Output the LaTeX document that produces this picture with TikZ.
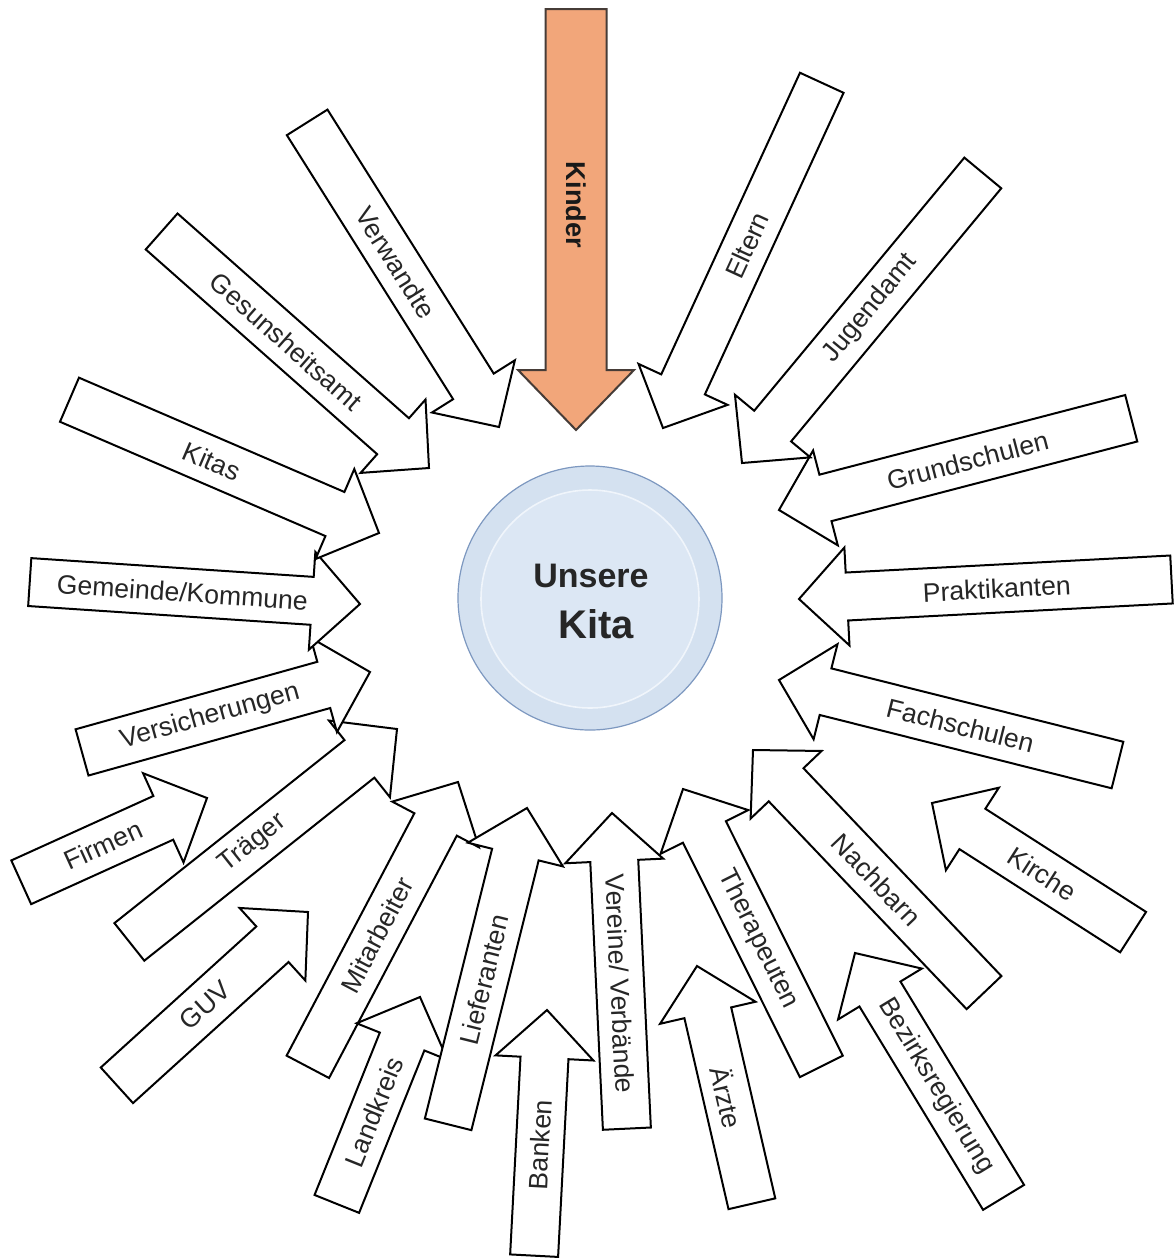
\documentclass[tikz,border=0pt]{standalone}
\usepackage{fontspec}
\setmainfont{Liberation Sans}
\definecolor{kindfill}{RGB}{242,166,122}
\definecolor{kindline}{RGB}{70,60,55}
\definecolor{ringfill}{RGB}{212,225,240}
\definecolor{ringline}{RGB}{125,152,192}
\definecolor{corefill}{RGB}{220,231,244}
\definecolor{coreline}{RGB}{240,245,251}
\tikzset{
  arrowbox/.style={draw=black, fill=white, line width=1pt, line join=miter},
  arrowtext/.style={transform shape, inner sep=0pt, font=\fontsize{13.3}{16}\selectfont, text=black!85},
}
\newcommand\blockarrow[8]{%
  \begin{scope}[shift={(#2,-#3)}, rotate={-1*(#4)}]
    \draw[arrowbox] (0,0) -- (-48,49) -- (-48,24) -- (-#5,24) -- (-#5,-24) -- (-48,-24) -- (-48,-49) -- cycle;
    \node[arrowtext, rotate=#7] (#1) at (-#6,0) {#8};
  \end{scope}}
\begin{document}
\begin{tikzpicture}[x=0.5pt,y=0.5pt]
\useasboundingbox (0,0) rectangle (1174,-1260);
\fill[white] (0,0) rectangle (1174,-1260);
% centre
\draw[fill=ringfill, draw=ringline, line width=0.6pt] (590,-598) circle[radius=132];
\draw[fill=corefill, draw=coreline, line width=0.8pt] (590,-599) circle[radius=109];
\node[anchor=base, font=\bfseries\fontsize{17}{20}\selectfont, text=black!85, inner sep=0pt] (unsere) at (591,-587) {Unsere};
\node[anchor=base, font=\bfseries\fontsize{20}{24}\selectfont, text=black!85, inner sep=0pt] (kita) at (596,-638) {Kita};
% arrows
\blockarrow{firmen}{207}{798}{-24.4}{204}{114}{0}{Firmen}
\blockarrow{guv}{308}{912}{-42.2}{258}{139}{0}{GUV}
\blockarrow{traeger}{397}{729}{-38.5}{342}{184}{0}{Träger}
\blockarrow{versicherungen}{370}{672}{-15.6}{299}{166}{0}{Versicherungen}
\blockarrow{gemeinde}{360}{604}{3.8}{331}{178}{0}{Gemeinde/Kommune}
\blockarrow{kitas}{379}{533}{23.3}{337}{182}{0}{Kitas}
\blockarrow{gesundheitsamt}{429}{468}{41.5}{357}{191}{0}{Gesunsheitsamt}
\blockarrow{verwandte}{499}{427}{57.8}{360}{194}{0}{Verwandte}
\blockarrow{mitarbeiter}{458}{782}{-62.2}{322}{173}{0}{Mitarbeiter}
\blockarrow{landkreis}{420}{997}{-68.1}{223}{124}{0}{Landkreis}
\blockarrow{lieferanten}{527}{808}{-76}{326}{177}{0}{Lieferanten}
\blockarrow{banken}{547}{1010}{-87}{246}{135}{0}{Banken}
\blockarrow{vereine}{612}{813}{-92.7}{316}{171}{180}{Vereine/ Verbände}
\blockarrow{aerzte}{697}{966}{-103}{244}{135}{180}{Ärzte}
\blockarrow{therapeuten}{683}{789}{-116.5}{310}{168}{180}{Therapeuten}
\blockarrow{bezirk}{855}{953}{-121.3}{286}{156}{180}{Bezirksregierung}
\blockarrow{nachbarn}{753}{750}{-133.6}{335}{179}{180}{Nachbarn}
\blockarrow{kirche}{932}{803}{-147.3}{239}{131}{180}{Kirche}
\blockarrow{fachschulen}{779}{680}{-165.9}{349}{187}{180}{Fachschulen}
\blockarrow{praktikanten}{799}{599}{177}{373}{198}{180}{Praktikanten}
\blockarrow{grundschulen}{779}{510}{165.4}{364}{195}{180}{Grundschulen}
\blockarrow{jugendamt}{742}{463}{129.7}{377}{201}{180}{Jugendamt}
\blockarrow{eltern}{663}{428}{114.7}{380}{201}{180}{Eltern}
% Kinder
\begin{scope}[shift={(576,-430)}, rotate=-90]
  \draw[fill=kindfill, draw=kindline, line width=1pt] (0,0) -- (-60,58) -- (-60,30.5) -- (-421,30.5) -- (-421,-30.5) -- (-60,-30.5) -- (-60,-58) -- cycle;
  \node[transform shape, inner sep=0pt, font=\bfseries\fontsize{13.6}{16}\selectfont, text=black!90] (kinder) at (-225,0) {Kinder};
\end{scope}
\end{tikzpicture}
\end{document}
